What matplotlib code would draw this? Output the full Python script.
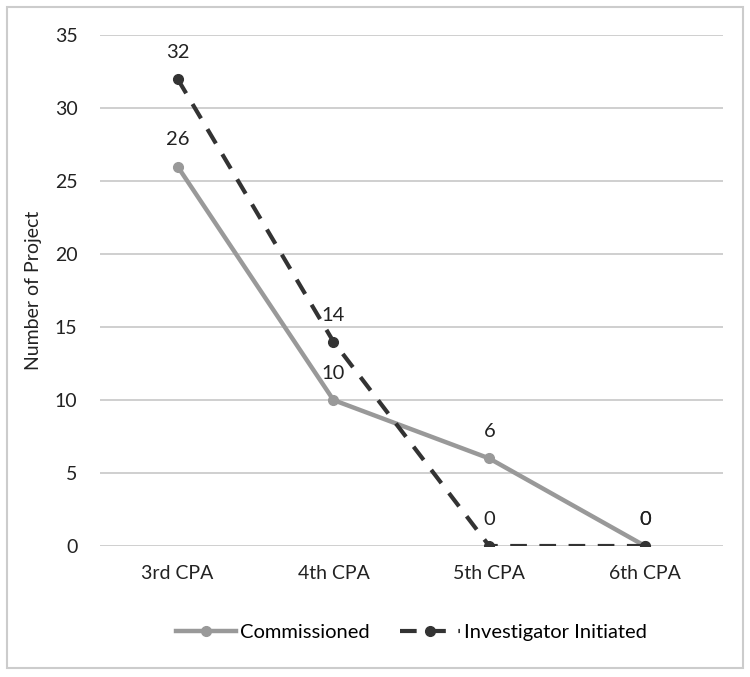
import matplotlib
matplotlib.use("Agg")
from matplotlib import pyplot as plt
from matplotlib.patches import Rectangle

categories = ["3rd CPA", "4th CPA", "5th CPA", "6th CPA"]
commissioned = [26, 10, 6, 0]
investigator = [32, 14, 0, 0]

plt.rcParams['font.family'] = ['Lato', 'DejaVu Sans']

fig = plt.figure(figsize=(7.5, 6.77), dpi=100)
ax = fig.add_axes([0.133, 0.1935, 0.831, 0.7545])

x = list(range(len(categories)))
ax.plot(x, commissioned, color='#999999', lw=3.2, marker='o', ms=7,
        label='Commissioned', zorder=3)
ax.plot(x, investigator, color='#333333', lw=3, ls=(0, (4, 3)), marker='o', ms=7,
        label='Investigator Initiated', zorder=4)

for xi, v in zip(x, commissioned):
    ax.annotate(str(v), (xi, v), xytext=(0, 13), textcoords='offset points',
                ha='center', va='bottom', fontsize=14.5, color='#222222')
for xi, v in zip(x, investigator):
    ax.annotate(str(v), (xi, v), xytext=(0, 13), textcoords='offset points',
                ha='center', va='bottom', fontsize=14.5, color='#222222')

ax.set_xlim(-0.5, 3.5)
ax.set_ylim(0, 35)
ax.set_yticks(range(0, 36, 5))
ax.set_xticks(x)
ax.set_xticklabels(categories)
ax.tick_params(length=0, labelsize=14, colors='#222222')
ax.tick_params(axis='y', pad=16)
ax.tick_params(axis='x', pad=14)
ax.grid(axis='y', color='#cccccc', lw=1.3)
ax.set_axisbelow(True)
for s in ax.spines.values():
    s.set_visible(False)
ax.set_ylabel('Number of Project', fontsize=14, color='#222222', labelpad=9)

ax.legend(loc='center', bbox_to_anchor=(0.5, -0.17), ncol=2, frameon=False,
          fontsize=14.5, handlelength=3, handletextpad=0.2, columnspacing=1.5)

fig.patches.append(Rectangle((0.009, 0.013), 0.981, 0.976, transform=fig.transFigure,
                             fill=False, edgecolor='#cccccc', lw=1.5))

fig.savefig('out.png', dpi=100)
